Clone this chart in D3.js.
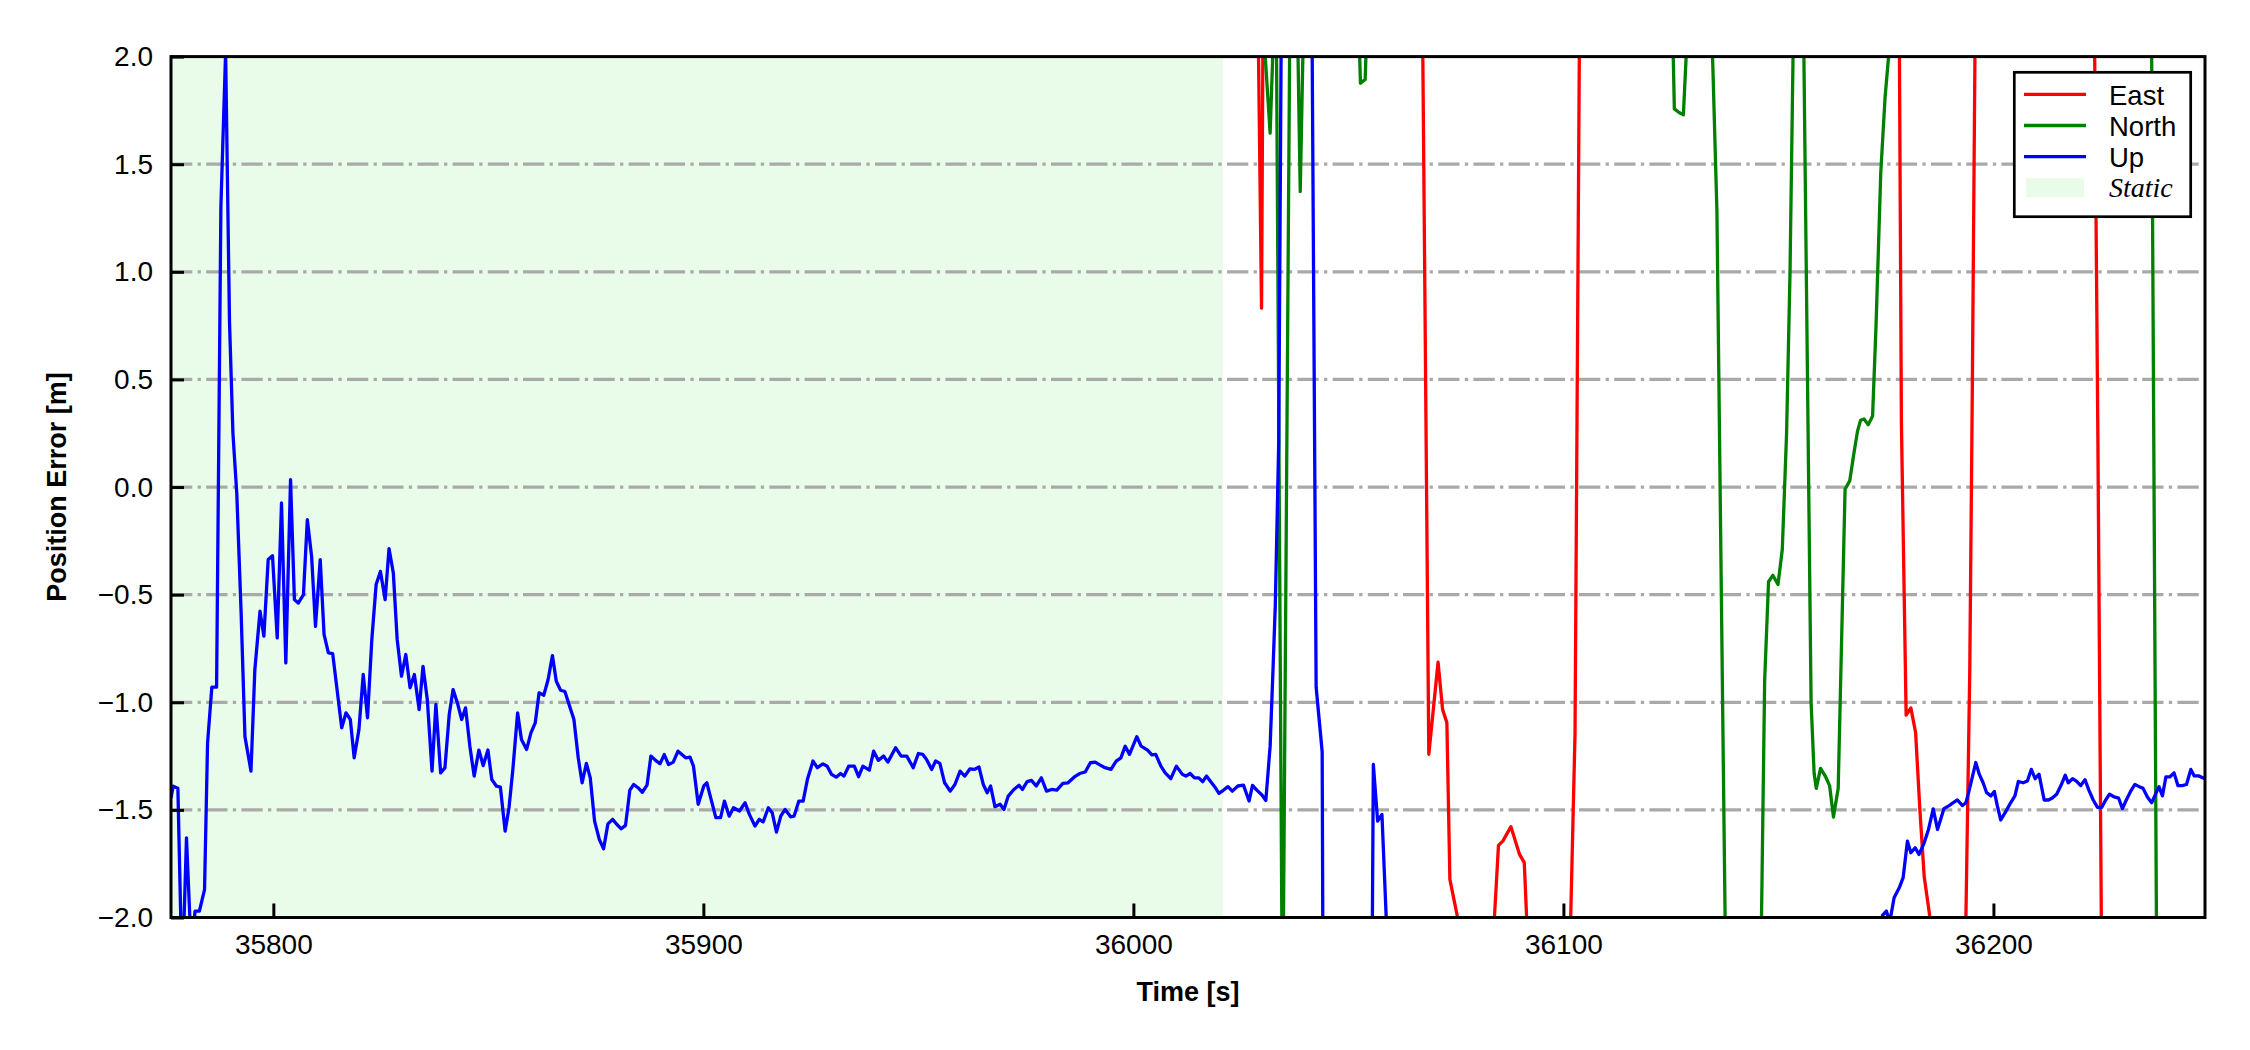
<!DOCTYPE html>
<html><head><meta charset="utf-8">
<script src="https://cdn.jsdelivr.net/npm/d3@7"></script>
<style>body{margin:0;background:#fff}</style>
</head><body><svg id="chart" width="2250" height="1050"></svg>
<script>
const xTicks = [35800, 35900, 36000, 36100, 36200];
const yTicks = [-2, -1.5, -1, -0.5, 0, 0.5, 1, 1.5, 2];
const gridValues = [-1.5, -1, -0.5, 0, 0.5, 1, 1.5];
const staticSpan = [35776.2, 36020.8];
const seriesNames = ["East", "North", "Up"];
const seriesColors = ["#ff0000", "#008000", "#0000ff"];
const xLabel = "Time [s]";
const yLabel = "Position Error [m]";

const upData = [[35776.2,-1.444],[35776.7,-1.39],[35777.8,-1.40],[35778.8,-2.3],[35779.8,-1.63],[35780.9,-2.15],[35781.8,-1.97],[35782.8,-1.97],[35784.0,-1.87],[35784.7,-1.19],[35785.7,-0.93],[35786.8,-0.93],[35787.8,1.3],[35788.9,2.02],[35789.8,0.77],[35790.6,0.25],[35791.5,-0.03],[35792.5,-0.58],[35793.4,-1.16],[35794.8,-1.32],[35795.7,-0.848],[35796.9,-0.577],[35797.8,-0.693],[35798.8,-0.337],[35799.8,-0.319],[35800.9,-0.701],[35801.9,-0.074],[35802.9,-0.817],[35804.0,0.034],[35804.9,-0.523],[35805.8,-0.539],[35807.0,-0.5],[35807.9,-0.152],[35808.9,-0.322],[35809.8,-0.647],[35810.9,-0.337],[35811.8,-0.686],[35812.8,-0.771],[35813.8,-0.774],[35815.9,-1.119],[35816.9,-1.049],[35817.9,-1.08],[35818.8,-1.258],[35819.9,-1.127],[35820.9,-0.871],[35821.9,-1.072],[35822.9,-0.709],[35823.9,-0.453],[35824.9,-0.392],[35826.0,-0.523],[35826.9,-0.286],[35827.9,-0.399],[35828.8,-0.709],[35829.8,-0.879],[35830.8,-0.778],[35831.8,-0.933],[35832.8,-0.871],[35833.9,-1.034],[35834.8,-0.833],[35835.8,-0.987],[35836.9,-1.32],[35837.8,-1.01],[35838.9,-1.328],[35839.9,-1.305],[35840.9,-1.057],[35841.8,-0.941],[35842.8,-1.003],[35843.8,-1.08],[35844.7,-1.026],[35845.7,-1.204],[35846.7,-1.343],[35847.8,-1.222],[35848.8,-1.294],[35849.9,-1.222],[35850.8,-1.359],[35851.9,-1.39],[35852.8,-1.394],[35853.9,-1.599],[35854.8,-1.49],[35855.7,-1.312],[35856.8,-1.049],[35857.7,-1.173],[35858.9,-1.219],[35859.9,-1.142],[35860.9,-1.096],[35861.8,-0.956],[35862.9,-0.967],[35863.9,-0.894],[35864.9,-0.783],[35865.8,-0.902],[35866.8,-0.944],[35867.8,-0.95],[35868.9,-1.018],[35869.9,-1.08],[35870.9,-1.258],[35871.8,-1.374],[35872.8,-1.284],[35873.7,-1.351],[35874.7,-1.552],[35875.8,-1.637],[35876.8,-1.681],[35877.8,-1.565],[35878.9,-1.544],[35879.9,-1.568],[35880.9,-1.588],[35881.9,-1.572],[35882.9,-1.408],[35883.8,-1.382],[35884.8,-1.397],[35885.8,-1.418],[35886.9,-1.385],[35887.8,-1.25],[35888.9,-1.27],[35889.9,-1.286],[35890.9,-1.243],[35891.9,-1.289],[35893.0,-1.278],[35894.1,-1.227],[35895.9,-1.258],[35896.9,-1.255],[35897.7,-1.297],[35898.8,-1.474],[35900.1,-1.389],[35900.8,-1.374],[35901.8,-1.451],[35902.9,-1.536],[35904.0,-1.536],[35904.9,-1.459],[35906.0,-1.529],[35907.0,-1.49],[35908.4,-1.505],[35909.7,-1.467],[35910.7,-1.521],[35912.0,-1.575],[35913.0,-1.544],[35913.9,-1.556],[35915.1,-1.49],[35916.0,-1.513],[35917.0,-1.603],[35918.0,-1.529],[35919.0,-1.498],[35920.3,-1.532],[35921.1,-1.529],[35922.2,-1.459],[35923.2,-1.459],[35924.2,-1.358],[35925.5,-1.273],[35926.5,-1.304],[35927.8,-1.286],[35928.8,-1.297],[35929.8,-1.335],[35930.9,-1.348],[35931.9,-1.331],[35932.7,-1.343],[35933.8,-1.297],[35935.1,-1.297],[35936.1,-1.346],[35937.1,-1.297],[35938.6,-1.315],[35939.6,-1.227],[35940.7,-1.27],[35941.9,-1.25],[35942.9,-1.278],[35944.7,-1.211],[35946.0,-1.25],[35947.3,-1.25],[35948.8,-1.304],[35950.0,-1.238],[35951.0,-1.242],[35951.9,-1.266],[35953.1,-1.312],[35954.0,-1.273],[35955.0,-1.284],[35956.1,-1.374],[35957.4,-1.413],[35958.5,-1.382],[35959.7,-1.32],[35960.8,-1.343],[35962.0,-1.309],[35963.0,-1.312],[35964.1,-1.301],[35965.1,-1.382],[35966.0,-1.42],[35966.8,-1.389],[35967.8,-1.485],[35969.0,-1.474],[35969.9,-1.498],[35970.9,-1.436],[35972.2,-1.405],[35973.4,-1.386],[35974.2,-1.405],[35975.3,-1.369],[35976.3,-1.363],[35977.4,-1.389],[35978.6,-1.351],[35979.8,-1.413],[35981.0,-1.405],[35982.2,-1.408],[35983.6,-1.377],[35984.8,-1.374],[35986.2,-1.348],[35987.5,-1.331],[35988.8,-1.324],[35990.0,-1.281],[35991.1,-1.278],[35992.3,-1.292],[35993.4,-1.304],[35994.8,-1.312],[35996.0,-1.273],[35997.1,-1.258],[35998.1,-1.204],[35999.1,-1.242],[36000.8,-1.16],[36001.8,-1.204],[36003.3,-1.222],[36004.3,-1.244],[36005.2,-1.242],[36006.4,-1.297],[36007.4,-1.328],[36008.7,-1.355],[36010.0,-1.297],[36011.4,-1.335],[36012.2,-1.343],[36013.2,-1.331],[36014.2,-1.351],[36015.2,-1.351],[36016.1,-1.369],[36017.0,-1.343],[36018.0,-1.369],[36018.9,-1.392],[36019.9,-1.423],[36020.9,-1.409],[36022.0,-1.392],[36023.0,-1.413],[36024.3,-1.389],[36025.6,-1.385],[36026.9,-1.459],[36027.7,-1.386],[36028.7,-1.408],[36029.9,-1.431],[36030.8,-1.456],[36031.8,-1.204],[36032.5,-0.83],[36033.0,-0.55],[36033.8,0.21],[36034.8,3.5],[36036.5,5.4],[36039.0,5.8],[36040.8,4.5],[36042.5,-0.93],[36043.9,-1.23],[36044.4,-4.0],[36047.0,-4.8],[36051.0,-5.0],[36054.9,-4.2],[36055.8,-1.289],[36056.8,-1.552],[36057.8,-1.521],[36058.9,-2.05],[36059.9,-4.0],[36065.0,-4.6],[36075.0,-5.2],[36090.0,-5.6],[36110.0,-5.4],[36130.0,-4.8],[36150.0,-3.9],[36165.0,-3.0],[36172.2,-2.5],[36173.2,-2.2],[36174.2,-1.99],[36175.1,-1.97],[36175.9,-2.02],[36176.9,-1.908],[36178.1,-1.862],[36179.0,-1.815],[36180.0,-1.645],[36180.8,-1.699],[36181.8,-1.676],[36182.7,-1.707],[36183.9,-1.653],[36184.9,-1.591],[36186.0,-1.495],[36187.0,-1.591],[36188.5,-1.494],[36189.7,-1.48],[36190.6,-1.467],[36191.6,-1.454],[36192.8,-1.48],[36193.6,-1.467],[36194.3,-1.414],[36195.1,-1.347],[36195.9,-1.28],[36196.7,-1.334],[36197.6,-1.374],[36198.4,-1.419],[36199.4,-1.435],[36200.2,-1.414],[36200.9,-1.48],[36201.7,-1.547],[36202.9,-1.507],[36204.0,-1.467],[36205.0,-1.435],[36205.8,-1.368],[36206.9,-1.374],[36207.9,-1.366],[36208.8,-1.312],[36209.7,-1.355],[36210.6,-1.334],[36211.8,-1.454],[36212.8,-1.454],[36213.7,-1.445],[36214.7,-1.427],[36215.7,-1.387],[36216.7,-1.339],[36217.4,-1.374],[36218.4,-1.355],[36219.3,-1.366],[36220.3,-1.387],[36221.3,-1.36],[36222.2,-1.408],[36223.2,-1.454],[36224.2,-1.488],[36225.2,-1.488],[36226.1,-1.454],[36227.0,-1.427],[36228.1,-1.44],[36229.1,-1.445],[36230.0,-1.494],[36230.9,-1.454],[36231.9,-1.414],[36232.9,-1.382],[36233.9,-1.392],[36234.8,-1.4],[36235.8,-1.44],[36236.8,-1.467],[36237.7,-1.427],[36238.5,-1.392],[36239.3,-1.435],[36240.1,-1.347],[36241.0,-1.347],[36242.0,-1.328],[36242.9,-1.387],[36243.9,-1.387],[36244.9,-1.382],[36245.9,-1.312],[36246.7,-1.342],[36247.7,-1.342],[36249.2,-1.355]];

const eastData = [[36026.8,3.2],[36027.8,2.9],[36028.8,2.5],[36029.8,0.831],[36030.8,4.7],[36031.8,5.2],[36035.0,6.0],[36040.0,6.5],[36045.0,6.8],[36050.0,6.2],[36055.0,5.5],[36060.0,4.6],[36064.0,3.9],[36066.7,3.4],[36067.7,1.1],[36068.7,-1.242],[36070.85,-0.814],[36071.9,-1.033],[36072.9,-1.095],[36073.6,-1.823],[36076.4,-2.1],[36078.0,-2.3],[36081.0,-2.35],[36083.2,-2.2],[36083.9,-2.02],[36084.9,-1.665],[36085.9,-1.645],[36087.8,-1.578],[36089.8,-1.707],[36090.9,-1.745],[36091.9,-2.21],[36092.9,-2.6],[36094.9,-3.0],[36096.9,-3.4],[36098.9,-3.2],[36100.7,-2.85],[36102.7,-1.147],[36103.7,2.0],[36104.7,5.0],[36108,6.2],[36115,6.8],[36125,7.1],[36135,6.6],[36145,6.0],[36155,5.4],[36165,5.0],[36172,4.8],[36177.5,4.4],[36178.6,0.3],[36179.7,-1.06],[36180.8,-1.026],[36181.9,-1.14],[36182.9,-1.5],[36183.9,-1.81],[36185.1,-1.98],[36186.2,-2.2],[36188.0,-2.8],[36190.8,-3.3],[36192.6,-3.1],[36193.6,-2.0],[36194.5,-0.85],[36195.1,0.48],[36195.7,2.0],[36196.7,4.2],[36200,5.2],[36210,5.6],[36218,4.8],[36222.3,4.1],[36223.3,2.6],[36224.3,0.2],[36225.3,-2.6],[36227,-4.2],[36232,-5.0],[36240,-5.3],[36249.2,-5.5]];

const northData = [[36026.8,3.0],[36027.8,2.8],[36028.8,2.6],[36029.8,2.3],[36030.5,2.05],[36031.8,1.644],[36032.5,2.06],[36033.2,2.3],[36034.7,-2.6],[36036.5,2.5],[36037.8,2.6],[36038.8,1.373],[36039.8,2.4],[36041,3.5],[36045,4.2],[36049,3.6],[36051.9,2.5],[36052.8,1.876],[36053.9,1.894],[36054.9,2.5],[36058,3.4],[36065,4.0],[36075,4.5],[36085,4.8],[36095,4.6],[36105,4.2],[36115,3.6],[36121,3.1],[36124.8,2.7],[36125.8,1.757],[36126.9,1.74],[36127.9,1.73],[36128.9,2.15],[36130.5,2.9],[36132.4,3.0],[36133.7,2.7],[36135.7,1.28],[36137.6,-2.0],[36138.6,-3.7],[36141,-4.3],[36143.5,-4.0],[36145.0,-3.6],[36146.8,-0.9],[36147.7,-0.44],[36148.7,-0.41],[36149.9,-0.453],[36150.9,-0.29],[36151.9,0.25],[36152.7,1.0],[36153.4,2.0],[36154.2,2.9],[36155.2,3.3],[36157.6,-1.0],[36158.3,-1.33],[36158.8,-1.4],[36159.8,-1.307],[36161.0,-1.347],[36161.9,-1.387],[36162.8,-1.533],[36163.9,-1.4],[36165.5,-0.01],[36166.6,0.03],[36167.5,0.15],[36168.4,0.26],[36169.1,0.31],[36169.9,0.316],[36170.9,0.29],[36171.9,0.33],[36172.7,0.75],[36173.8,1.46],[36174.8,1.81],[36175.7,2.02],[36176.7,2.4],[36180,3.0],[36190,3.6],[36200,3.9],[36210,4.0],[36220,3.9],[36230,3.7],[36235.3,3.9],[36236.3,3.82],[36237.3,0.18],[36238.3,-3.46],[36241,-5.2],[36245,-5.8],[36249.2,-6.0]];

const seriesData = [eastData, northData, upData];

const W = 2250, H = 1050;
const plot = {left: 171, right: 2205, top: 56.6, bottom: 917.5};
const FONT = "'Liberation Sans', Arial, Helvetica, sans-serif";

const svg = d3.select("#chart");
svg.append("rect").attr("width", W).attr("height", H).attr("fill", "#ffffff");

const x = d3.scaleLinear().domain(d3.extent(upData, d => d[0])).range([plot.left, plot.right]);
const y = d3.scaleLinear().domain([yTicks[0], yTicks[yTicks.length - 1]]).range([plot.bottom, plot.top]);

svg.append("defs").append("clipPath").attr("id", "clip")
  .append("rect").attr("x", plot.left).attr("y", plot.top)
  .attr("width", plot.right - plot.left).attr("height", plot.bottom - plot.top);

const inner = svg.append("g").attr("clip-path", "url(#clip)");

// static span
inner.append("rect")
  .attr("x", x(staticSpan[0]) - 20).attr("y", plot.top)
  .attr("width", x(staticSpan[1]) - x(staticSpan[0]) + 20)
  .attr("height", plot.bottom - plot.top)
  .attr("fill", "rgb(233,252,233)");

// grid
inner.selectAll("line.grid").data(gridValues).join("line")
  .attr("class", "grid")
  .attr("x1", plot.left).attr("x2", plot.right)
  .attr("y1", d => y(d)).attr("y2", d => y(d))
  .attr("stroke", "#a9a9a9").attr("stroke-width", 3.2)
  .attr("stroke-dasharray", "21.3,5.3,3.3,5.3");

// series lines
const line = d3.line().x(d => x(d[0])).y(d => y(d[1]));
seriesData.forEach((data, i) => {
  inner.append("path").datum(data)
    .attr("d", line)
    .attr("fill", "none")
    .attr("stroke", seriesColors[i])
    .attr("stroke-width", 3.3)
    .attr("stroke-linejoin", "round");
});

// axes
const yAxis = d3.axisLeft(y).tickValues(yTicks).tickFormat(d3.format(".1f"))
  .tickSizeInner(-13).tickSizeOuter(0).tickPadding(18);
const gy = svg.append("g").attr("transform", `translate(${plot.left},0)`).call(yAxis);
const xAxis = d3.axisBottom(x).tickValues(xTicks).tickFormat(d3.format("d"))
  .tickSizeInner(-14).tickSizeOuter(0).tickPadding(17);
const gx = svg.append("g").attr("transform", `translate(0,${plot.bottom})`).call(xAxis);
[gx, gy].forEach(g => {
  g.select(".domain").remove();
  g.selectAll(".tick line").attr("stroke", "#000").attr("stroke-width", 3);
  g.selectAll(".tick text").attr("fill", "#000")
    .style("font-family", FONT).style("font-size", "28px");
});

// frame
svg.append("rect")
  .attr("x", plot.left).attr("y", plot.top)
  .attr("width", plot.right - plot.left).attr("height", plot.bottom - plot.top)
  .attr("fill", "none").attr("stroke", "#000").attr("stroke-width", 3);

// axis labels
svg.append("text").text(xLabel)
  .attr("x", (plot.left + plot.right) / 2).attr("y", 1001)
  .attr("text-anchor", "middle")
  .style("font-family", FONT).style("font-size", "27px").style("font-weight", "bold");
svg.append("text").text(yLabel)
  .attr("transform", `translate(66,${(plot.top + plot.bottom) / 2}) rotate(-90)`)
  .attr("text-anchor", "middle")
  .style("font-family", FONT).style("font-size", "27px").style("font-weight", "bold");

// legend
const lg = svg.append("g");
lg.append("rect").attr("x", 2014.3).attr("y", 72.3).attr("width", 176.4).attr("height", 144.4)
  .attr("fill", "#fff").attr("stroke", "#000").attr("stroke-width", 2.7);
seriesNames.forEach((name, i) => {
  const cy = 94.3 + i * 31.2;
  lg.append("line").attr("x1", 2024).attr("x2", 2086).attr("y1", cy).attr("y2", cy)
    .attr("stroke", seriesColors[i]).attr("stroke-width", 3.3);
  lg.append("text").text(name).attr("x", 2109).attr("y", cy + 10.5)
    .style("font-family", FONT).style("font-size", "27.5px");
});
lg.append("rect").attr("x", 2026).attr("y", 178.3).attr("width", 58).attr("height", 19)
  .attr("fill", "rgb(233,252,233)");
lg.append("text").text("Static").attr("x", 2109).attr("y", 196.7)
  .style("font-family", "'Liberation Serif', 'Times New Roman', serif")
  .style("font-style", "italic").style("font-size", "28px");
</script>
</body></html>
